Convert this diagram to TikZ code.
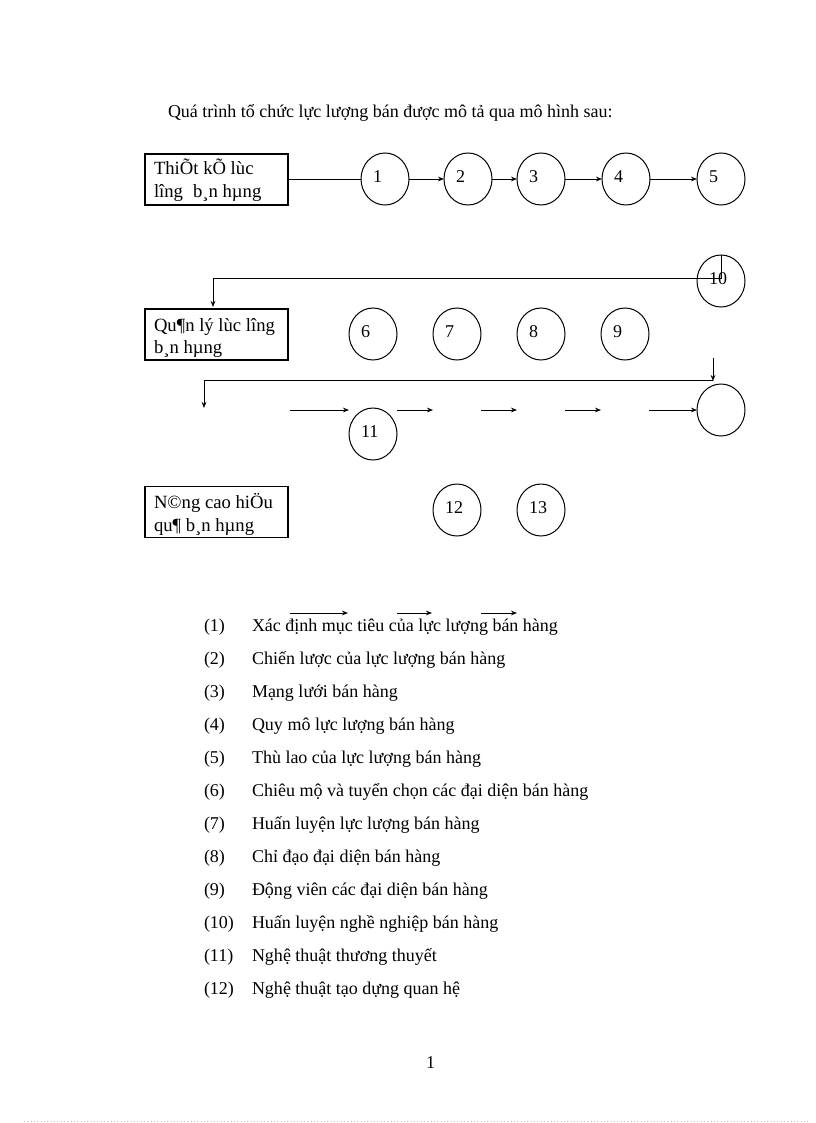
\documentclass[tikz,border=0pt]{standalone}
\usepackage{fontspec}
\setmainfont{Liberation Serif}
\usetikzlibrary{arrows.meta,shapes.geometric}
\begin{document}
\begin{tikzpicture}[x=0.75pt,y=-0.75pt,
  every node/.style={inner sep=0pt,outer sep=0pt},
  body/.style={anchor=base west,font=\fontsize{13.5pt}{16pt}\selectfont},
  boxtext/.style={anchor=base west,font=\fontsize{14pt}{16pt}\selectfont},
  circ/.style={draw,ellipse,line width=0.75pt,minimum width=36pt,minimum height=39pt},
  num/.style={anchor=west,font=\fontsize{13.5pt}{16pt}\selectfont},
  boxframe/.style={draw,rectangle,line width=0.9pt,minimum width=107.25pt,minimum height=38.25pt},
  arr/.style={line width=0.7pt,-{Stealth[length=4.5pt,width=3.5pt]}},
  plain/.style={line width=0.7pt}]
\useasboundingbox (0,0) rectangle (816,1123);
\fill[white] (0,0) rectangle (816,1123);

% title
\node[body] (title) at (168,118) {Quá trình tổ chức lực lượng bán được mô tả qua mô hình sau:};

% boxes
\node[boxframe] (b1) at (216.5,179.5) {};
\node[boxtext] (b1a) at (154,175) {ThiÕt kÕ lùc};
\node[boxtext] (b1b) at (154,198) {lîng\hspace{4pt} b¸n hµng};

\node[boxframe] (b2) at (216.5,334.5) {};
\node[boxtext] (b2a) at (154,331) {Qu¶n lý lùc lîng};
\node[boxtext] (b2b) at (154,353) {b¸n hµng};

\node[boxframe] (b3) at (216.5,512) {};
\node[boxtext] (b3a) at (154,508) {N©ng cao hiÖu};
\node[boxtext] (b3b) at (154,531) {qu¶ b¸n hµng};

% circles row 1
\node[circ] (c1) at (385,179) {};
\node[circ] (c2) at (468,179) {};
\node[circ] (c3) at (541,179) {};
\node[circ] (c4) at (626,179) {};
\node[circ] (c5) at (721,179) {};
\node[num] (l1) at (373,177) {1};
\node[num] (l2) at (456,177) {2};
\node[num] (l3) at (529,177) {3};
\node[num] (l4) at (614,177) {4};
\node[num] (l5) at (709,177) {5};

\draw[plain] (b1.east |- c1) -- (c1.west);
\draw[arr] (c1.east) -- (c2.west);
\draw[arr] (c2.east) -- (c3.west);
\draw[arr] (c3.east) -- (c4.west);
\draw[arr] (c4.east) -- (c5.west);

% circle 10 and feedback
\node[circ] (c10) at (721,281) {};
\node[num] (l10) at (709,279) {10};
\coordinate (j1) at (213,278);
\coordinate (k1) at (213,307);
\draw[arr] (c10.north) -- (c10.north |- j1) -- (j1) -- (k1);

% circles row 2
\node[circ] (c6) at (373,334) {};
\node[circ] (c7) at (457,334) {};
\node[circ] (c8) at (541,334) {};
\node[circ] (c9) at (625,334) {};
\node[num] (l6) at (361,332) {6};
\node[num] (l7) at (445,332) {7};
\node[num] (l8) at (529,332) {8};
\node[num] (l9) at (613,332) {9};

% second connector
\coordinate (v1) at (713,358);
\coordinate (v2) at (713,381);
\coordinate (h1) at (204,380);
\coordinate (h2) at (204,408);
\draw[arr] (v1) -- (v2);
\draw[arr] (v2 |- h1) -- (h1) -- (h2);

% empty circle and row of arrows
\node[circ] (ce) at (721,410) {};
\coordinate (a1s) at (290,410); \coordinate (a1e) at (349,410);
\coordinate (a2s) at (397,410); \coordinate (a2e) at (433,410);
\coordinate (a3s) at (481,410); \coordinate (a3e) at (517,410);
\coordinate (a4s) at (565,410); \coordinate (a4e) at (601,410);
\coordinate (a5s) at (649,410);
\draw[arr] (a1s) -- (a1e);
\draw[arr] (a2s) -- (a2e);
\draw[arr] (a3s) -- (a3e);
\draw[arr] (a4s) -- (a4e);
\draw[arr] (a5s) -- (ce.west);

% circle 11
\node[circ] (c11) at (373,434) {};
\node[num] (l11) at (361,432) {11};

% circles 12, 13
\node[circ] (c12) at (457,510) {};
\node[circ] (c13) at (541,510) {};
\node[num] (l12) at (445,508) {12};
\node[num] (l13) at (529,508) {13};

% stray arrows over list item 1
\coordinate (s1s) at (290,613); \coordinate (s1e) at (348,613);
\coordinate (s2s) at (397,613); \coordinate (s2e) at (432,613);
\coordinate (s3s) at (481,613); \coordinate (s3e) at (517,613);
\draw[arr] (s1s) -- (s1e);
\draw[arr] (s2s) -- (s2e);
\draw[arr] (s3s) -- (s3e);

% list
\foreach \i/\t [count=\k from 0] in {
  1/Xác định mục tiêu của lực lượng bán hàng,
  2/Chiến lược của lực lượng bán hàng,
  3/Mạng lưới bán hàng,
  4/Quy mô lực lượng bán hàng,
  5/Thù lao của lực lượng bán hàng,
  6/Chiêu mộ và tuyển chọn các đại diện bán hàng,
  7/Huấn luyện lực lượng bán hàng,
  8/Chỉ đạo đại diện bán hàng,
  9/Động viên các đại diện bán hàng,
  10/Huấn luyện nghề nghiệp bán hàng,
  11/Nghệ thuật thương thuyết,
  12/Nghệ thuật tạo dựng quan hệ}{
  \node[body] (n\i) at (204,631+33*\k) {(\i)};
  \node[body] (t\i) at (252,631+33*\k) {\t};
}

% page number
\node[body] (pg) at (426,1068) {1};

% bottom dotted rule
\coordinate (d1) at (24,1121);
\coordinate (d2) at (808,1121);
\draw[gray!50,dotted,line width=0.5pt] (d1) -- (d2);
\end{tikzpicture}
\end{document}
